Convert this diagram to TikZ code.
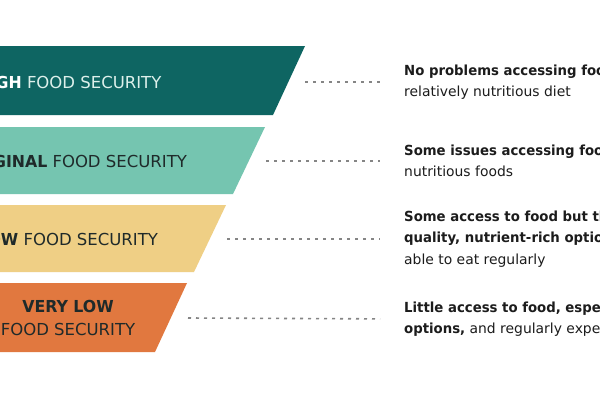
\documentclass[tikz,border=0pt]{standalone}
\usepackage{fontspec}
\setmainfont[BoldFeatures={FakeStretch=0.955}]{DejaVu Sans}
\usepackage{tikz}
\usetikzlibrary{positioning,calc}
\definecolor{highcol}{HTML}{0E6562}
\definecolor{margcol}{HTML}{75C5B0}
\definecolor{lowcol}{HTML}{EFCF85}
\definecolor{vlowcol}{HTML}{E1783F}
\definecolor{lighttxt}{HTML}{DDF0EB}
\definecolor{darktxt}{HTML}{1F2A2A}
\definecolor{notecol}{HTML}{1C1C1C}
\definecolor{dotcol}{HTML}{858585}

\begin{document}
\begin{tikzpicture}[x=1pt,y=-1pt,
  level/.style={align=center,inner sep=0pt,text=darktxt,font=\fontsize{16.5}{23}\selectfont},
  note/.style={anchor=west,align=left,inner sep=0pt,text=notecol,font=\fontsize{13.9}{21.5}\selectfont},
  dots/.style={draw=dotcol,line width=1.6pt,dash pattern=on 3pt off 5pt,shorten >=24pt}]
  \useasboundingbox (0,0) rectangle (600,400);
  \clip (0,0) rectangle (600,400);
  \fill[white] (0,0) rectangle (600,400);

  % bands
  \fill[highcol] (-10,46) -- (305,46) -- (273,115) -- (-10,115) -- cycle;
  \fill[margcol] (-10,127) -- (265,127) -- (233,194) -- (-10,194) -- cycle;
  \fill[lowcol] (-10,205) -- (226,205) -- (194,272) -- (-10,272) -- cycle;
  \fill[vlowcol] (-10,283) -- (187,283) -- (155,352) -- (-10,352) -- cycle;

  \node[level,text=lighttxt] (high) at (69,82) {\textbf{\color{white}HIGH} FOOD SECURITY};
  \node[level] (marg) at (70,161) {\textbf{MARGINAL} FOOD SECURITY};
  \node[level] (low) at (68,239) {\textbf{LOW} FOOD SECURITY};
  \node[level] (vlow) at (68,318) {\textbf{VERY LOW}\\FOOD SECURITY};

  % descriptions
  \node[note] (t1) at (404,82) {\textbf{No problems accessing food}\\relatively nutritious diet};
  \node[note] (t2) at (404,161) {\textbf{Some issues accessing food}\\nutritious foods};
  \node[note] (t3) at (404,239) {\textbf{Some access to food but they}\\\textbf{quality, nutrient-rich options}\\able to eat regularly};
  \node[note] (t4) at (404,319) {\textbf{Little access to food, especially}\\\textbf{options,} and regularly experience};

  \coordinate (e1) at (305,82);
  \coordinate (e2) at (266,161);
  \coordinate (e3) at (227,239);
  \coordinate (e4) at (188,318);
  \draw[dots] (e1) -- (t1.west);
  \draw[dots] (e2) -- (t2.west);
  \draw[dots] (e3) -- (t3.west);
  \draw[dots] (e4) -- (t4.west);
\end{tikzpicture}
\end{document}
